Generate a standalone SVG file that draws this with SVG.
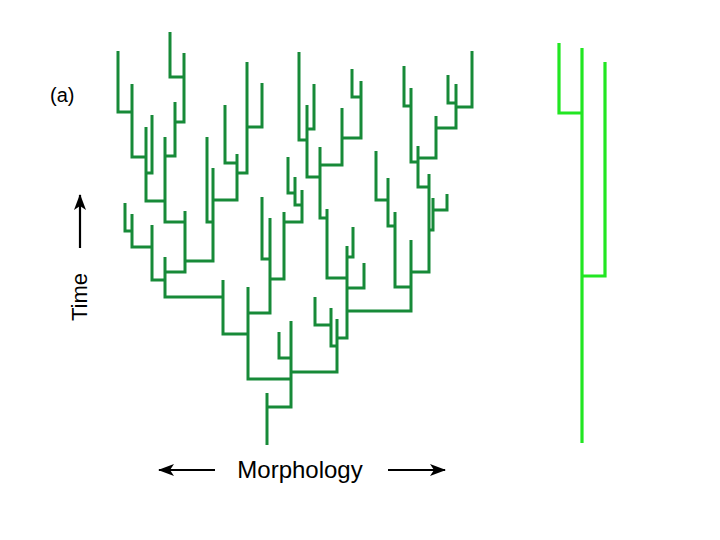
<svg xmlns="http://www.w3.org/2000/svg" width="720" height="540" viewBox="0 0 720 540">
<style>
.t{fill:none;stroke:#178a38;stroke-width:3;stroke-linejoin:miter;stroke-linecap:butt}
.b{fill:none;stroke:#22e622;stroke-width:3.2;stroke-linejoin:miter;stroke-linecap:butt}
.lbl{font-family:"Liberation Sans",Arial,sans-serif;fill:#000}
.ax{stroke:#000;stroke-width:2.2;fill:none}
</style>
<defs>
<marker id="ah" viewBox="0 0 16 12" refX="15" refY="6" markerWidth="16" markerHeight="12" markerUnits="userSpaceOnUse" orient="auto">
<path d="M0,0 L16,6 L0,12 L4,6 Z" fill="#000"/>
</marker>
</defs>
<rect width="720" height="540" fill="#fff"/>
<g id="tree-a" class="t">
<path d="M118,51 V112 H132"/>
<path d="M132,84 V157 H146"/>
<path d="M152,115 V173 H146"/>
<path d="M146,127 V201 H165"/>
<path d="M170,32 V77 H184"/>
<path d="M184,53 V122 H175"/>
<path d="M175,102 V156 H165"/>
<path d="M165,137 V222 H185"/>
<path d="M185,211 V272 H165"/>
<path d="M207,137 V222 H213"/>
<path d="M213,168 V261 H185"/>
<path d="M225,105 V163 H237"/>
<path d="M262,83 V127 H247"/>
<path d="M247,62 V173 H237"/>
<path d="M237,154 V200 H213"/>
<path d="M125,203 V231 H132"/>
<path d="M132,214 V247 H152"/>
<path d="M152,225 V280 H165"/>
<path d="M165,257 V297 H223"/>
<path d="M223,280 V334 H248"/>
<path d="M248,287 V379 H291"/>
<path d="M288,157 V193 H295"/>
<path d="M295,177 V205 H302"/>
<path d="M302,190 V222 H284"/>
<path d="M284,212 V279 H270"/>
<path d="M262,197 V259 H270"/>
<path d="M270,218 V313 H248"/>
<path d="M279,332 V358 H291"/>
<path d="M291,321 V407 H267"/>
<path d="M267,393 V445"/>
<path d="M315,297 V325 H331"/>
<path d="M331,308 V346 H337"/>
<path d="M337,319 V372 H291"/>
<path d="M347,246 V338 H337"/>
<path d="M353,227 V257 H347"/>
<path d="M364,263 V288 H347"/>
<path d="M327,209 V278 H347"/>
<path d="M299,52 V140 H307"/>
<path d="M314,84 V129 H307"/>
<path d="M307,105 V177 H320"/>
<path d="M352,69 V97 H361"/>
<path d="M361,81 V138 H342"/>
<path d="M342,108 V165 H320"/>
<path d="M320,147 V218 H327"/>
<path d="M376,151 V200 H388"/>
<path d="M388,178 V226 H395"/>
<path d="M395,212 V287 H411"/>
<path d="M411,240 V311 H347"/>
<path d="M404,66 V106 H411"/>
<path d="M411,88 V162 H418"/>
<path d="M448,75 V103 H456"/>
<path d="M472,51 V107 H456"/>
<path d="M456,84 V128 H436"/>
<path d="M436,116 V158 H418"/>
<path d="M418,146 V187 H429"/>
<path d="M447,194 V210 H433"/>
<path d="M433,198 V230 H429"/>
<path d="M429,174 V272 H411"/>
</g>
<g id="tree-b" class="b">
<path d="M559,43 V113 H582"/>
<path d="M605,62 V276 H582"/>
<path d="M582,48 V443"/>
</g>
<g id="label-a"><text class="lbl" x="50" y="102" font-size="20">(a)</text></g>
<g id="time-axis">
<line class="ax" x1="80" y1="248" x2="80" y2="195" marker-end="url(#ah)"/>
<text class="lbl" font-size="22" text-anchor="middle" transform="translate(87,297) rotate(-90)">Time</text>
</g>
<g id="morph-axis">
<line class="ax" x1="215" y1="470" x2="159" y2="470" marker-end="url(#ah)"/>
<line class="ax" x1="388" y1="470" x2="445" y2="470" marker-end="url(#ah)"/>
<text class="lbl" x="300" y="478" font-size="24" text-anchor="middle">Morphology</text>
</g>
</svg>
